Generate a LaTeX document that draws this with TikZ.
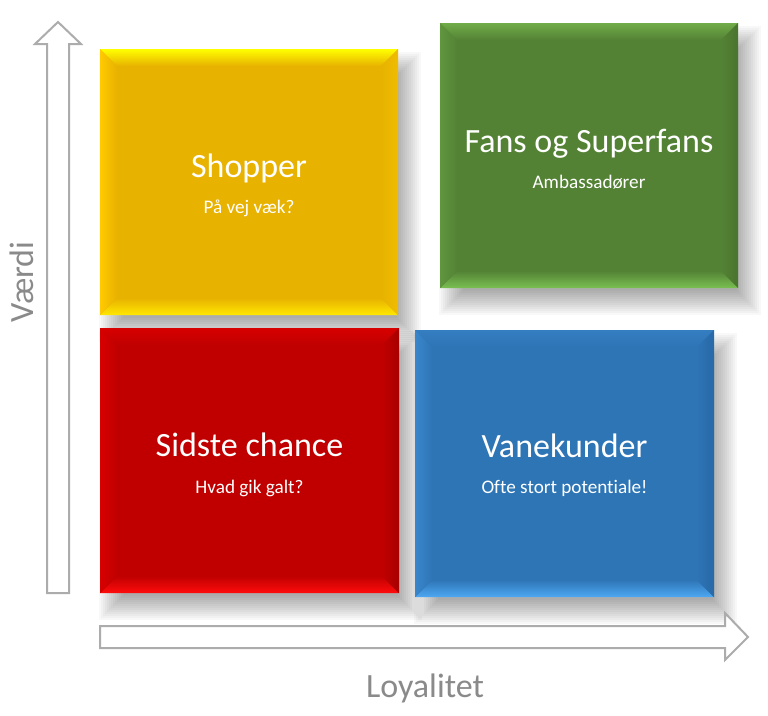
\documentclass[tikz,border=0pt]{standalone}
\usepackage{fontspec}
\setmainfont{Carlito}[Ligatures=NoCommon]
\usetikzlibrary{calc}
\definecolor{yel-main}{RGB}{232,178,0}
\definecolor{yel-top}{RGB}{255,255,0}
\definecolor{yel-bot}{RGB}{255,232,0}
\definecolor{yel-lft}{RGB}{255,202,0}
\definecolor{yel-rgt}{RGB}{240,188,0}
\definecolor{grn-main}{RGB}{84,130,53}
\definecolor{grn-top}{RGB}{112,172,72}
\definecolor{grn-bot}{RGB}{122,192,82}
\definecolor{grn-lft}{RGB}{96,150,62}
\definecolor{grn-rgt}{RGB}{74,116,46}
\definecolor{red-main}{RGB}{192,0,0}
\definecolor{red-top}{RGB}{215,0,0}
\definecolor{red-bot}{RGB}{255,12,12}
\definecolor{red-lft}{RGB}{215,0,0}
\definecolor{red-rgt}{RGB}{168,0,0}
\definecolor{blu-main}{RGB}{46,117,182}
\definecolor{blu-top}{RGB}{52,125,192}
\definecolor{blu-bot}{RGB}{78,168,242}
\definecolor{blu-lft}{RGB}{58,134,204}
\definecolor{blu-rgt}{RGB}{40,104,166}
\definecolor{axisgray}{RGB}{138,138,138}
\definecolor{arrowgray}{RGB}{172,172,172}
\newcommand{\sdx}{11}
\newcommand{\sdy}{15}
\newcommand{\bvw}{17}
% #1 name, #2 x1, #3 y1, #4 x2, #5 y2, #6 colour prefix
\newcommand{\quadbox}[6]{%
  \foreach \e in {12,10,8,6,4,2,0,-2,-4,-6,-8,-10,-12}{%
    \pgfmathsetmacro{\ax}{#2+\sdx-(\e)}%
    \pgfmathsetmacro{\ay}{#3+\sdy-(\e)}%
    \pgfmathsetmacro{\bx}{#4+\sdx+(\e)}%
    \pgfmathsetmacro{\by}{#5+\sdy+(\e)}%
    \fill[black,opacity=0.027] (\ax,\ay) rectangle (\bx,\by);
  }%
  \node[boxbody, fill=#6-main, minimum width={(#4-#2)*0.75pt}, minimum height={(#5-#3)*0.75pt}]
    (#1) at ({(#2+#4)/2},{(#3+#5)/2}) {};
  \shade[top color=#6-top, bottom color=#6-main]
    (#2,#3) -- (#4,#3) -- ({#4-\bvw},{#3+\bvw}) -- ({#2+\bvw},{#3+\bvw}) -- cycle;
  \shade[top color=#6-main, bottom color=#6-bot]
    (#2,#5) -- (#4,#5) -- ({#4-\bvw},{#5-\bvw}) -- ({#2+\bvw},{#5-\bvw}) -- cycle;
  \shade[left color=#6-lft, right color=#6-main]
    (#2,#3) -- ({#2+\bvw},{#3+\bvw}) -- ({#2+\bvw},{#5-\bvw}) -- (#2,#5) -- cycle;
  \shade[left color=#6-main, right color=#6-rgt]
    (#4,#3) -- ({#4-\bvw},{#3+\bvw}) -- ({#4-\bvw},{#5-\bvw}) -- (#4,#5) -- cycle;
}
\begin{document}
\begin{tikzpicture}[x=0.75pt,y=-0.75pt,
  boxbody/.style={inner sep=0pt, outer sep=0pt, draw=none},
  qtitle/.style={text=white, font=\fontsize{25.5}{30}\selectfont, anchor=base, inner sep=0pt},
  qsub/.style={text=white, font=\fontsize{14.4}{17}\selectfont, anchor=base, inner sep=0pt},
  axislabel/.style={text=axisgray, font=\fontsize{25.5}{30}\selectfont, anchor=base, inner sep=0pt},
  blockarrow/.style={draw=arrowgray, line width=1.5pt, fill=white, line join=miter}]
\fill[white] (0,0) rectangle (768,715);
\useasboundingbox (0,0) rectangle (768,715);

\quadbox{shopper}{100}{49}{398}{315}{yel}
\quadbox{fans}{440}{23}{738}{288}{grn}
\quadbox{sidste}{100}{328}{399}{593}{red}
\quadbox{vane}{415}{330}{714}{597}{blu}

% axes
\draw[blockarrow] (58,22) -- (81,44) -- (69,44) -- (69,593) -- (47,593) -- (47,44) -- (35,44) -- cycle;
\draw[blockarrow] (748,637) -- (725,613) -- (725,626) -- (100,626) -- (100,648) -- (725,648) -- (725,660) -- cycle;
\node[axislabel, rotate=90] (vaerdi) at (33,282) {Værdi};
\node[axislabel] (loyal) at (425,697) {Loyalitet};

% texts
\node[qtitle] (shopper-t) at (249,177) {Shopper};
\node[qsub] (shopper-s) at (249,213) {På vej væk?};
\node[qtitle] (fans-t) at (589,152) {Fans og Superfans};
\node[qsub] (fans-s) at (589,188) {Ambassadører};
\node[qtitle] (sidste-t) at (249.5,456) {Sidste chance};
\node[qsub] (sidste-s) at (249.5,493) {Hvad gik galt?};
\node[qtitle] (vane-t) at (564.5,457) {Vanekunder};
\node[qsub] (vane-s) at (564.5,493) {Ofte stort potentiale!};
\end{tikzpicture}
\end{document}
